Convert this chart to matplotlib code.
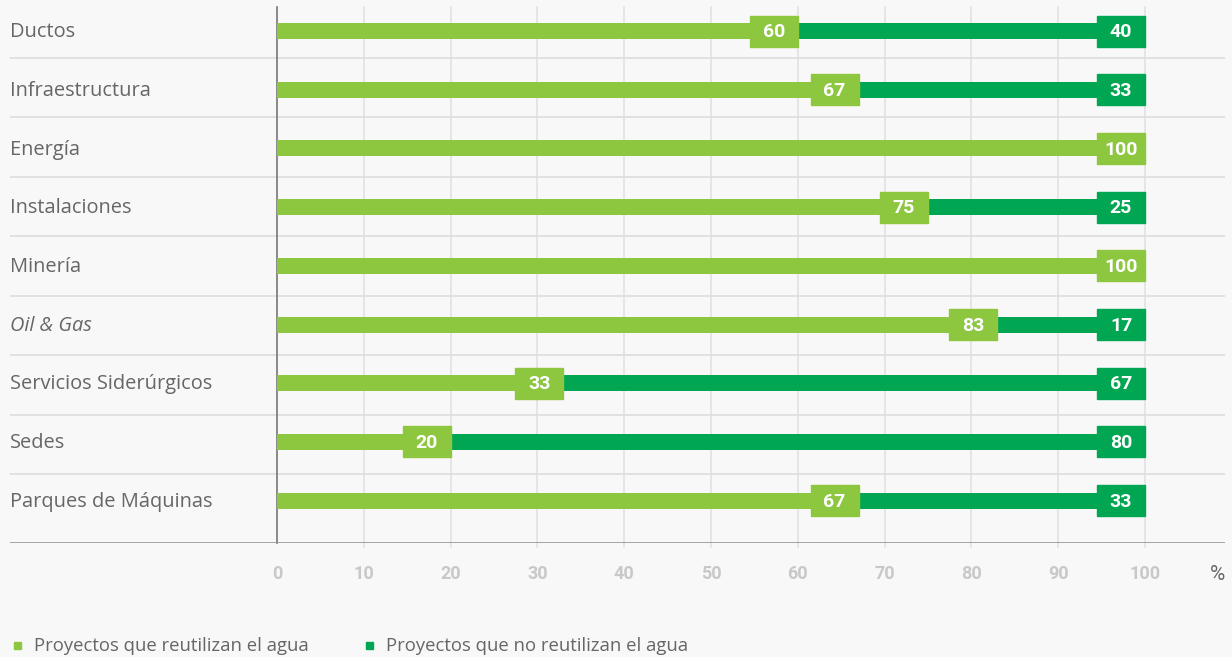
import matplotlib.pyplot as plt
from matplotlib.patches import Rectangle

categories = ["Ductos", "Infraestructura", "Energía", "Instalaciones", "Minería",
              "Oil & Gas", "Servicios Siderúrgicos", "Sedes", "Parques de Máquinas"]
reutilizan = [60, 67, 100, 75, 100, 83, 33, 20, 67]
no_reutilizan = [40, 33, 0, 25, 0, 17, 67, 80, 33]
ticks = [0, 10, 20, 30, 40, 50, 60, 70, 80, 90, 100]
legend_labels = ["Proyectos que reutilizan el agua", "Proyectos que no reutilizan el agua"]

light = "#8dc63f"
dark = "#00a651"
bg = "#f8f8f8"
W, H = 1232, 657

plt.rcParams['font.family'] = ['Open Sans', 'DejaVu Sans']

fig = plt.figure(figsize=(W / 100, H / 100), dpi=100, facecolor=bg)
# axes spans the whole plot band, x=10..1225 px, y=0..543 px
ax = fig.add_axes([10 / W, 1 - 543 / H, 1215 / W, 543 / H])
ax.set_facecolor(bg)

px_x = 8.68     # pixels per percent
row = 58.7      # pixels per row
x0 = 277
ax.set_xlim((10 - x0) / px_x, (1225 - x0) / px_x)
ax.set_ylim((543 - 31) / row, -31 / row)
for s in ax.spines.values():
    s.set_visible(False)
ax.set_xticks([])
ax.set_yticks([])

n = len(categories)
top = -24 / row
bottom = (547 - 31) / row

# vertical grid
for t in ticks[1:]:
    ax.plot([t, t], [top, bottom], color="#e2e2e2", lw=1.2, clip_on=False, zorder=0)
ax.plot([0, 0], [top, bottom - 4 / row], color="#777777", lw=1.2, clip_on=False, zorder=1)

# row separators
for k in range(n - 1):
    ax.axhline((58 + 59.5 * k - 31) / row, color="#dddddd", lw=1.2, zorder=0)
ax.axhline((543 - 31) / row, color="#8a8a8a", lw=1.8, zorder=2)

bar_h = 16 / row
box_w = 48 / px_x
box_h = 31 / row
for i, (a, b) in enumerate(zip(reutilizan, no_reutilizan)):
    ax.barh(i, a, height=bar_h, color=light, zorder=3)
    if b:
        ax.barh(i, b, left=a, height=bar_h, color=dark, zorder=3)
        ax.add_patch(Rectangle((a + b - box_w, i - box_h / 2), box_w, box_h,
                               color=dark, zorder=4))
        ax.text(a + b - box_w / 2, i + 0.02, str(b), ha="center", va="center",
                color="white", fontsize=14, fontweight="bold", family="Roboto", zorder=5)
    ax.add_patch(Rectangle((a - box_w, i - box_h / 2), box_w, box_h,
                           color=light, zorder=4))
    ax.text(a - box_w / 2, i + 0.02, str(a), ha="center", va="center",
            color="white", fontsize=14, fontweight="bold", family="Roboto", zorder=5)
    ax.text(0, i + 0.02, categories[i], transform=ax.get_yaxis_transform(),
            ha="left", va="center", color="#666666", fontsize=14.4,
            style="italic" if categories[i] == "Oil & Gas" else "normal")

# tick labels
for t in ticks:
    ax.text(t, (574 - 31) / row, str(t), ha="center", va="center",
            color="#c8c8c8", fontsize=13, fontweight="bold", family="Roboto")
ax.text(1, (574 - 31) / row, "%", transform=ax.get_yaxis_transform(),
        ha="right", va="center", color="#666666", fontsize=15, family="Roboto")

# legend
for xs, xt, c, lab in [(14, 34, light, legend_labels[0]), (366, 386, dark, legend_labels[1])]:
    fig.patches.append(Rectangle((xs / W, 1 - 649 / H), 7 / W, 7 / H,
                                 color=c, transform=fig.transFigure))
    fig.text(xt / W, 1 - 646 / H, lab, ha="left", va="center",
             color="#666666", fontsize=13.3)

fig.savefig("out.png", dpi=100, facecolor=bg)
